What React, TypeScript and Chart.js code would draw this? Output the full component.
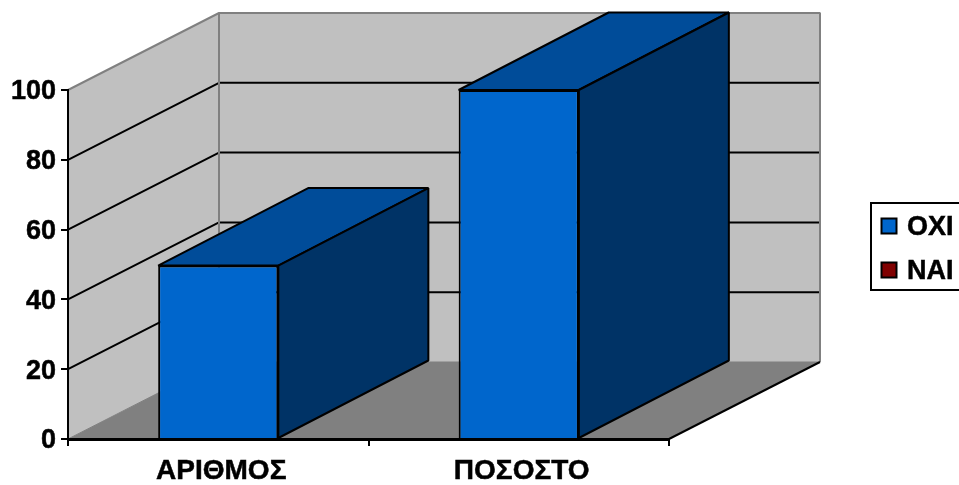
import React, { useEffect, useRef } from "react";
import { Chart, registerables } from "chart.js";

Chart.register(...registerables);

const categories = ["ΑΡΙΘΜΟΣ", "ΠΟΣΟΣΤΟ"];
const oxiValues = [49.7, 100];
const naiValues = [0, 0];
const yTicks = [0, 20, 40, 60, 80, 100];

const WIDTH = 959;
const HEIGHT = 485;
const DEPTH_X = 151;
const DEPTH_Y = -77;
const BAR_DEPTH_X = 150;
const BAR_DEPTH_Y = -77.5;
const FONT = '"Liberation Sans", Arial, sans-serif';

type Ctx = CanvasRenderingContext2D;

function polygon(ctx: Ctx, pts: number[][], fill: string | null, stroke: string | null, lw = 2) {
  ctx.beginPath();
  pts.forEach(([x, y], i) => (i ? ctx.lineTo(x, y) : ctx.moveTo(x, y)));
  ctx.closePath();
  if (fill) {
    ctx.fillStyle = fill;
    ctx.fill();
  }
  if (stroke) {
    ctx.strokeStyle = stroke;
    ctx.lineWidth = lw;
    ctx.lineJoin = "bevel";
    ctx.stroke();
  }
}

function segment(ctx: Ctx, pts: number[][], color: string, lw = 2) {
  ctx.beginPath();
  pts.forEach(([x, y], i) => (i ? ctx.lineTo(x, y) : ctx.moveTo(x, y)));
  ctx.strokeStyle = color;
  ctx.lineWidth = lw;
  ctx.lineJoin = "bevel";
  ctx.stroke();
}

// Side walls, floor and slanted gridlines of the 3D box behind the bars.
const wallsPlugin = {
  id: "walls",
  beforeDraw(chart: any) {
    const { ctx, chartArea: a, scales } = chart;
    const { left: l, right: r, top: t, bottom: b } = a;
    const dx = DEPTH_X;
    const dy = DEPTH_Y;
    ctx.save();
    polygon(ctx, [[l, t], [l + dx, t + dy], [l + dx, b + dy], [l, b]], "#c0c0c0", null);
    polygon(ctx, [[l + dx, t + dy], [r + dx, t + dy], [r + dx, b + dy], [l + dx, b + dy]], "#c0c0c0", null);
    polygon(ctx, [[l, b], [l + dx, b + dy], [r + dx, b + dy], [r, b]], "#808080", null);

    yTicks.forEach((v) => {
      if (v === 0 || v === 100) return;
      const y = scales.y.getPixelForValue(v);
      segment(ctx, [[l, y], [l + dx, y + dy], [r + dx, y + dy]], "#000000", 2);
    });

    segment(ctx, [[l, t], [l + dx, t + dy], [r + dx, t + dy], [r + dx, b + dy]], "#808080", 2);
    segment(ctx, [[l + dx, t + dy], [l + dx, b + dy]], "#808080", 2);
    segment(ctx, [[l, b], [l + dx, b + dy], [r + dx, b + dy]], "#808080", 1);
    segment(ctx, [[r, b], [r + dx, b + dy]], "#000000", 2);
    ctx.restore();
  },
  // Depth faces of each bar: the front face comes from the bar element itself.
  beforeDatasetsDraw(chart: any) {
    const { ctx } = chart;
    ctx.save();
    chart.data.datasets.forEach((ds: any, i: number) => {
      chart.getDatasetMeta(i).data.forEach((bar: any, j: number) => {
        if (!ds.data[j]) return;
        const { x, y, base, width } = bar.getProps(["x", "y", "base", "width"], true);
        const x0 = x - width / 2;
        const x1 = x + width / 2;
        polygon(ctx, [[x0, y], [x0 + BAR_DEPTH_X, y + BAR_DEPTH_Y], [x1 + BAR_DEPTH_X, y + BAR_DEPTH_Y], [x1, y]], ds.topColor, "#000000");
        polygon(ctx, [[x1, y], [x1 + BAR_DEPTH_X, y + BAR_DEPTH_Y], [x1 + BAR_DEPTH_X, base + BAR_DEPTH_Y], [x1, base]], ds.sideColor, "#000000");
      });
    });
    ctx.restore();
  },
  // Framed legend on the right, running to the canvas edge.
  afterDraw(chart: any) {
    const { ctx } = chart;
    ctx.save();
    ctx.strokeStyle = "#000000";
    ctx.lineWidth = 2;
    ctx.strokeRect(871, 203, 100, 87);
    ctx.font = `bold 27px ${FONT}`;
    ctx.textBaseline = "middle";
    ctx.textAlign = "left";
    chart.data.datasets.forEach((ds: any, i: number) => {
      const cy = 226 + i * 44;
      ctx.lineWidth = 2;
      ctx.fillStyle = ds.backgroundColor;
      ctx.fillRect(881.5, cy - 7.5, 15, 15);
      ctx.strokeRect(881.5, cy - 7.5, 15, 15);
      ctx.fillStyle = "#000000";
      ctx.fillText(ds.label, 907, cy + 2);
      ctx.lineWidth = 0.5;
      ctx.strokeText(ds.label, 907, cy + 2);
    });
    ctx.restore();
  },
};

export default function App() {
  const ref = useRef<HTMLCanvasElement>(null);

  useEffect(() => {
    document.body.style.margin = "0";
    const chart = new Chart(ref.current as HTMLCanvasElement, {
      type: "bar",
      data: {
        labels: categories,
        datasets: [
          {
            label: "OXI",
            data: oxiValues,
            backgroundColor: "#0066cc",
            borderColor: "#000000",
            borderWidth: 2,
            topColor: "#004c99",
            sideColor: "#003366",
          },
          {
            label: "NAI",
            data: naiValues,
            backgroundColor: "#800000",
            borderColor: "#000000",
            borderWidth: 0,
            topColor: "#600000",
            sideColor: "#400000",
          },
        ] as any,
      },
      options: {
        animation: false,
        responsive: false,
        layout: { padding: { top: 90, right: 290, left: 0, bottom: 0 } },
        datasets: { bar: { barPercentage: 0.4, categoryPercentage: 1 } },
        plugins: { legend: { display: false }, tooltip: { enabled: false } },
        scales: {
          x: {
            stacked: true,
            offset: true,
            afterFit(scale: any) {
              scale.height = 46;
            },
            grid: { offset: true, drawOnChartArea: false, drawTicks: true, tickLength: 7, color: "#000000", lineWidth: 2 },
            border: { color: "#000000", width: 3 },
            ticks: {
              color: "#000000",
              font: { family: FONT, size: 28, weight: "bold" },
              padding: 8,
              maxRotation: 0,
              labelOffset: 3,
              textStrokeColor: "#000000",
              textStrokeWidth: 0.5,
            },
          },
          y: {
            stacked: true,
            min: 0,
            max: 100,
            afterFit(scale: any) {
              scale.width = 68;
            },
            afterBuildTicks(scale: any) {
              scale.ticks = yTicks.map((value) => ({ value }));
            },
            grid: { drawOnChartArea: false, drawTicks: true, tickLength: 7, color: "#000000", lineWidth: 2 },
            border: { color: "#000000", width: 2 },
            ticks: {
              color: "#000000",
              font: { family: FONT, size: 27, weight: "bold" },
              padding: 5,
              labelOffset: 2,
              textStrokeColor: "#000000",
              textStrokeWidth: 0.5,
            },
          },
        },
      } as any,
      plugins: [wallsPlugin],
    });
    return () => chart.destroy();
  }, []);

  return <canvas ref={ref} width={WIDTH} height={HEIGHT} style={{ display: "block" }} />;
}
